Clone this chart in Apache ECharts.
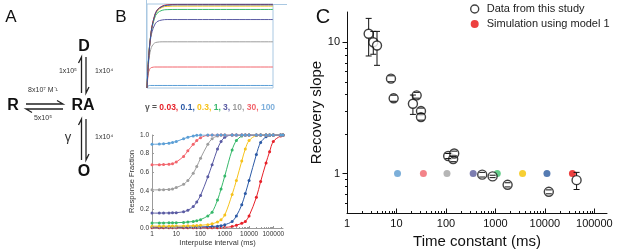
<!DOCTYPE html>
<html>
<head>
<meta charset="UTF-8">
<title>Recovery slope</title>
<script src="https://cdn.jsdelivr.net/npm/echarts@6/dist/echarts.min.js"></script>
<style>
html, body { margin:0; padding:0; background:#fff; }
#main { width:617px; height:249px; }
</style>
</head>
<body>
<div id="main"></div>
<script>
// ---- panel B (top): time course, one curve per gamma
var tTime     = [0, 1, 2, 3, 4, 6, 8, 12, 16, 24, 40, 100];
var topLight  = [0, 0.025, 0.03, 0.03, 0.03, 0.03, 0.03, 0.03, 0.03, 0.03, 0.03, 0.03];
var topPink   = [0, 0.17, 0.22, 0.24, 0.245, 0.25, 0.25, 0.25, 0.25, 0.25, 0.25, 0.25];
var topGray   = [0, 0.25, 0.39, 0.46, 0.5, 0.535, 0.545, 0.55, 0.55, 0.55, 0.55, 0.55];
var topPurple = [0, 0.3, 0.49, 0.6, 0.67, 0.75, 0.79, 0.81, 0.815, 0.815, 0.815, 0.815];
var topGreen  = [0, 0.3, 0.5, 0.63, 0.72, 0.83, 0.89, 0.925, 0.933, 0.935, 0.935, 0.935];
var topYellow = [0, 0.29, 0.5, 0.63, 0.73, 0.85, 0.915, 0.96, 0.972, 0.975, 0.975, 0.975];
var topRed    = [0, 0.28, 0.49, 0.63, 0.74, 0.86, 0.93, 0.975, 0.99, 0.995, 0.995, 0.995];
var topBlue   = [0, 0.28, 0.49, 0.63, 0.73, 0.855, 0.925, 0.97, 0.985, 0.99, 0.99, 0.99];

// ---- panel B (bottom): response fraction vs interpulse interval (ms)
var ipi = [1,2,3,5,7,10,20,30,50,70,100,200,300,500,700,1000,2000,3000,5000,7000,10000,20000,30000,50000,70000,100000,200000,250000];
var rfG100 = [0.9,0.902,0.905,0.912,0.92,0.93,0.96,0.975,0.99,0.997,1,1,1,1,1,1,1,1,1,1,1,1,1,1,1,1,1,1];
var rfG30  = [0.68,0.68,0.682,0.686,0.692,0.71,0.77,0.83,0.9,0.94,0.97,0.998,1,1,1,1,1,1,1,1,1,1,1,1,1,1,1,1];
var rfG10  = [0.41,0.41,0.412,0.415,0.42,0.435,0.47,0.51,0.59,0.66,0.75,0.9,0.96,0.99,1,1,1,1,1,1,1,1,1,1,1,1,1,1];
var rfG3   = [0.16,0.16,0.161,0.162,0.163,0.165,0.175,0.19,0.23,0.28,0.35,0.55,0.68,0.85,0.93,0.975,1,1,1,1,1,1,1,1,1,1,1,1];
var rfG1   = [0.055,0.055,0.055,0.056,0.056,0.057,0.06,0.064,0.07,0.078,0.09,0.13,0.17,0.3,0.42,0.56,0.84,0.94,0.99,1,1,1,1,1,1,1,1,1];
var rfG03  = [0.02,0.02,0.02,0.02,0.021,0.021,0.022,0.023,0.025,0.027,0.029,0.036,0.045,0.065,0.09,0.14,0.36,0.51,0.72,0.85,0.94,0.995,1,1,1,1,1,1];
var rfG01  = [0.01,0.01,0.01,0.01,0.01,0.01,0.01,0.01,0.01,0.011,0.012,0.014,0.016,0.02,0.025,0.035,0.07,0.13,0.25,0.37,0.51,0.79,0.92,0.98,0.995,1,1,1];
var rfG003 = [0.003,0.003,0.003,0.003,0.003,0.003,0.003,0.003,0.003,0.003,0.003,0.003,0.003,0.004,0.005,0.007,0.015,0.03,0.05,0.07,0.13,0.33,0.5,0.7,0.82,0.93,0.99,0.995];
var gammaLabels = ['0.03', '0.1', '0.3', '1', '3', '10', '30', '100'];

// ---- panel C: recovery slope vs time constant
var cX  = [2.74, 3.4, 4.04, 7.74, 8.77, 21.5, 25.6, 31.3, 31.3, 111, 140, 147, 541, 877, 1763, 12000, 43700];
var cY  = [11.6, 10.0, 9.44, 5.28, 3.74, 3.4, 3.94, 2.99, 2.69, 1.36, 1.29, 1.42, 0.98, 0.95, 0.82, 0.725, 0.89];
var cLo = [7.86, 8.1, 6.67, 5.0, 3.55, 2.82, 3.75, 2.85, 2.55, 1.3, 1.23, 1.36, 0.94, 0.93, 0.79, 0.70, 0.755];
var cHi = [15.2, 12.1, 12.1, 5.55, 3.95, 3.96, 4.15, 3.15, 2.85, 1.42, 1.35, 1.48, 1.02, 0.97, 0.85, 0.75, 1.02];
var simX = [10.5, 35, 105, 355, 1090, 3540, 11000, 36000];
var simY = [1, 1, 1, 1, 1, 1, 1, 1];
var logMant = [2, 3, 4, 5, 6, 7, 8, 9];
var xDecades = [1, 10, 100, 1000, 10000, 100000];
var yMinorC = [0.6, 0.7, 0.8, 0.9, 2, 3, 4, 5, 6, 7, 8, 9];

// colours
var cRed = '#e62129', cBlue = '#2c5aa6', cYellow = '#f6c21c', cGreen = '#36b86a',
    cPurple = '#5a5ba3', cGray = '#9d9d9d', cPink = '#f2646c', cLight = '#5b9fd6';
var simColors = ['#5b9bcf', '#f0646c', '#a2a2a2', '#5d5e9e', '#3cbf6c', '#f5c300', '#2b5a9f', '#e8100f'];
var FONT = '"Liberation Sans", Arial, sans-serif';

var chart = echarts.init(document.getElementById('main'));

function zip(xs, ys) { return xs.map(function (x, i) { return [x, ys[i]]; }); }
function isPow10(v) { var l = Math.log10(v); return Math.abs(l - Math.round(l)) < 1e-6; }

function topLine(name, ys, color) {
    return { name: name, type: 'line', xAxisIndex: 0, yAxisIndex: 0, data: zip(tTime, ys),
        showSymbol: false, smooth: 0.35, lineStyle: { color: color, width: 1 }, silent: true };
}
function rfLine(name, ys, color) {
    return { name: name, type: 'line', xAxisIndex: 1, yAxisIndex: 1, data: zip(ipi, ys),
        symbol: 'circle', symbolSize: 3, smooth: 0.35, itemStyle: { color: color },
        lineStyle: { color: color, width: 1 }, silent: true };
}
// small tick marks along a log axis (minor decade ticks)
function tickSeries(idx, dir, vals, fixed, len, color) {
    return { type: 'custom', xAxisIndex: idx, yAxisIndex: idx, silent: true, z: 4,
        data: vals.map(function (v) { return dir === 'x' ? [v, fixed] : [fixed, v]; }),
        renderItem: function (params, api) {
            var p = api.coord([api.value(0), api.value(1)]);
            var px = Math.round(p[0]) + 0.5, py = Math.round(p[1]) + 0.5;
            var s = dir === 'x' ? { x1: px, y1: py, x2: px, y2: py - len }
                                : { x1: px, y1: py, x2: px - len, y2: py };
            return { type: 'line', shape: s, style: { stroke: color, lineWidth: 1 } };
        } };
}
function minorOf(decades) {
    var out = [];
    decades.forEach(function (d) { logMant.forEach(function (m) { out.push(m * d); }); });
    return out;
}

var cMinorX = minorOf([1, 10, 100, 1000, 10000]);
var bMinorX = minorOf([1, 10, 100, 1000, 10000, 100000]).filter(function (v) { return v < 250000; });

function seg(x1, y1, x2, y2) {
    return { type: 'line', shape: { x1: x1, y1: y1, x2: x2, y2: y2 }, style: { stroke: '#111', lineWidth: 1 } };
}
function txt(t, x, y, font, align, color) {
    return { type: 'text', silent: true, style: { text: t, x: x, y: y, font: font,
        fill: color || '#111', align: align || 'center', verticalAlign: 'middle' } };
}
function harp(pts) {
    return { type: 'polyline', silent: true, shape: { points: pts }, style: { stroke: '#222', lineWidth: 1.3, fill: null } };
}

var option = {
    animation: false,
    textStyle: { fontFamily: FONT },
    grid: [
        { left: 147, top: 4, width: 126, height: 84, show: true, borderColor: '#a9c8e2', borderWidth: 1, outerBoundsMode: 'none' },
        { left: 152, top: 135, width: 131, height: 93, outerBoundsMode: 'none' },
        { left: 347, top: 12, width: 260, height: 201, outerBoundsMode: 'none' }
    ],
    xAxis: [
        { gridIndex: 0, type: 'value', min: 0, max: 100, show: false },
        { gridIndex: 1, type: 'log', min: 1, max: 250000,
          axisLine: { lineStyle: { color: '#9a9a9a', width: 1 } },
          axisTick: { show: false }, splitLine: { show: false },
          axisLabel: { fontSize: 6.5, color: '#333', margin: 3,
              formatter: function (v) { return isPow10(v) ? String(Math.round(v)) : ''; } },
          name: 'Interpulse interval (ms)', nameLocation: 'middle', nameGap: 11,
          nameTextStyle: { fontSize: 7.5, color: '#333' } },
        { gridIndex: 2, type: 'log', min: 1, max: 180000,
          axisLine: { lineStyle: { color: '#111', width: 1 } },
          axisTick: { show: false }, splitLine: { show: false },
          axisLabel: { fontSize: 11, color: '#111', margin: 5,
              formatter: function (v) { return isPow10(v) ? String(Math.round(v)) : ''; } },
          name: 'Time constant (ms)', nameLocation: 'middle', nameGap: 17,
          nameTextStyle: { fontSize: 15, color: '#111' } }
    ],
    yAxis: [
        { gridIndex: 0, type: 'value', min: 0, max: 1, show: false },
        { gridIndex: 1, type: 'value', min: 0, max: 1, interval: 0.2,
          axisLine: { show: true, lineStyle: { color: '#9a9a9a', width: 1 } },
          axisTick: { show: true, length: 2, inside: true, lineStyle: { color: '#9a9a9a' } },
          splitLine: { show: false },
          axisLabel: { fontSize: 6.5, color: '#333', margin: 3,
              formatter: function (v) { return v.toFixed(1); } },
          name: 'Response Fraction', nameLocation: 'middle', nameGap: 13,
          nameTextStyle: { fontSize: 7.5, color: '#333' } },
        { gridIndex: 2, type: 'log', min: 0.5, max: 17,
          axisLine: { show: true, lineStyle: { color: '#111', width: 1 } },
          axisTick: { show: false }, splitLine: { show: false },
          axisLabel: { fontSize: 11, color: '#111', margin: 7,
              formatter: function (v) { return isPow10(v) ? String(Math.round(v)) : ''; } },
          name: 'Recovery slope', nameLocation: 'middle', nameGap: 14,
          nameTextStyle: { fontSize: 15, color: '#111' } }
    ],
    legend: {
        orient: 'vertical', left: 470, top: 3, itemWidth: 14, itemHeight: 8, itemGap: 3,
        selectedMode: false, padding: 0,
        textStyle: { fontSize: 11, color: '#222', fontFamily: FONT, lineHeight: 12 },
        data: [
            { name: 'Data from this study', icon: 'circle',
              itemStyle: { color: '#fff', borderColor: '#111', borderWidth: 1.4 } },
            { name: 'Simulation using model 1', icon: 'circle', itemStyle: { color: '#e8100f' } }
        ]
    },
    series: [
        topLine('t100', topLight, cLight),
        topLine('t30', topPink, cPink),
        topLine('t10', topGray, cGray),
        topLine('t3', topPurple, cPurple),
        topLine('t1', topGreen, cGreen),
        topLine('t0.3', topYellow, cYellow),
        topLine('t0.03', topRed, cRed),
        topLine('t0.1', topBlue, cBlue),

        rfLine('r0.03', rfG003, cRed),
        rfLine('r0.1', rfG01, cBlue),
        rfLine('r0.3', rfG03, cYellow),
        rfLine('r1', rfG1, cGreen),
        rfLine('r3', rfG3, cPurple),
        rfLine('r10', rfG10, cGray),
        rfLine('r30', rfG30, cPink),
        rfLine('r100', rfG100, cLight),
        tickSeries(1, 'x', bMinorX, 0, 1.5, '#9a9a9a'),
        tickSeries(1, 'x', xDecades, 0, 2.5, '#9a9a9a'),

        tickSeries(2, 'x', cMinorX, 0.5, 2.5, '#111'),
        tickSeries(2, 'x', xDecades, 0.5, 5, '#111'),
        tickSeries(2, 'y', yMinorC, 1, 2.5, '#111'),
        tickSeries(2, 'y', [1, 10], 1, 5, '#111'),
        {
            name: 'Simulation using model 1', type: 'scatter', xAxisIndex: 2, yAxisIndex: 2,
            symbol: 'circle', symbolSize: 7, z: 2, itemStyle: { color: '#e8100f' },
            data: simX.map(function (x, i) { return { value: [x, simY[i]], itemStyle: { color: simColors[i] } }; })
        },
        {
            name: 'Data from this study', type: 'scatter', xAxisIndex: 2, yAxisIndex: 2,
            symbol: 'circle', symbolSize: 9, z: 3,
            itemStyle: { color: '#fff', borderColor: '#111', borderWidth: 1.4 },
            data: zip(cX, cY)
        },
        {
            name: 'err', type: 'custom', xAxisIndex: 2, yAxisIndex: 2, z: 4, silent: true,
            data: cX.map(function (x, i) { return [x, cY[i], cLo[i], cHi[i]]; }),
            encode: { x: 0, y: 1 },
            renderItem: function (params, api) {
                var c = api.coord([api.value(0), api.value(1)]);
                var lo = api.coord([api.value(0), api.value(2)]);
                var hi = api.coord([api.value(0), api.value(3)]);
                var r = 4.5, w = 3, kids = [];
                if (hi[1] < c[1] - r) kids.push(seg(c[0], hi[1], c[0], c[1] - r));
                if (lo[1] > c[1] + r) kids.push(seg(c[0], c[1] + r, c[0], lo[1]));
                kids.push(seg(c[0] - w, hi[1], c[0] + w, hi[1]));
                kids.push(seg(c[0] - w, lo[1], c[0] + w, lo[1]));
                return { type: 'group', children: kids };
            }
        }
    ],
    graphic: [
        // panel letters
        txt('A', 11, 17, '17px ' + FONT),
        txt('B', 121, 17, '17px ' + FONT),
        txt('C', 323, 17, '20px ' + FONT),
        // panel A: kinetic scheme
        txt('D', 84, 47, 'bold 16px ' + FONT),
        txt('R', 13, 106, 'bold 16px ' + FONT),
        txt('RA', 83, 106, 'bold 16px ' + FONT),
        txt('O', 84, 172, 'bold 16px ' + FONT),
        harp([[78.5, 63], [81.5, 57], [81.5, 93]]),
        harp([[86, 57], [86, 93], [89, 87]]),
        harp([[26, 104], [63, 104], [57, 100.5]]),
        harp([[63, 109], [26, 109], [32, 112.5]]),
        harp([[78.5, 125], [81.5, 119], [81.5, 160]]),
        harp([[86, 119], [86, 160], [89, 154]]),
        txt('1x10⁵', 77, 71, '7px ' + FONT, 'right', '#333'),
        txt('1x10⁴', 95, 71, '7px ' + FONT, 'left', '#333'),
        txt('8x10⁷ M⁻¹', 43, 90, '7px ' + FONT, 'center', '#333'),
        txt('5x10⁵', 43, 118, '7px ' + FONT, 'center', '#333'),
        txt('γ', 68, 137, '13px ' + FONT, 'center', '#333'),
        txt('1x10⁴', 95, 137, '7px ' + FONT, 'left', '#333'),
        // panel B: frame extensions and gamma key
        { type: 'line', silent: true, shape: { x1: 146.5, y1: 0, x2: 146.5, y2: 88 }, style: { stroke: '#a9c8e2', lineWidth: 1 } },
        { type: 'line', silent: true, shape: { x1: 273, y1: 4.5, x2: 287, y2: 4.5 }, style: { stroke: '#a9c8e2', lineWidth: 1 } },
        { type: 'text', silent: true, style: {
            x: 210, y: 108, align: 'center', verticalAlign: 'middle',
            text: '{k|γ = }{a|' + gammaLabels[0] + ', }{b|' + gammaLabels[1] + ', }{c|' + gammaLabels[2] +
                  ', }{d|' + gammaLabels[3] + ', }{e|' + gammaLabels[4] + ', }{f|' + gammaLabels[5] +
                  ', }{g|' + gammaLabels[6] + ', }{h|' + gammaLabels[7] + '}',
            rich: {
                k: { fill: '#555', font: 'bold 8.5px ' + FONT },
                a: { fill: cRed, font: 'bold 8.5px ' + FONT },
                b: { fill: cBlue, font: 'bold 8.5px ' + FONT },
                c: { fill: cYellow, font: 'bold 8.5px ' + FONT },
                d: { fill: cGreen, font: 'bold 8.5px ' + FONT },
                e: { fill: cPurple, font: 'bold 8.5px ' + FONT },
                f: { fill: cGray, font: 'bold 8.5px ' + FONT },
                g: { fill: cPink, font: 'bold 8.5px ' + FONT },
                h: { fill: '#7fb0dc', font: 'bold 8.5px ' + FONT }
            } } }
    ]
};
chart.setOption(option);
</script>
</body>
</html>
